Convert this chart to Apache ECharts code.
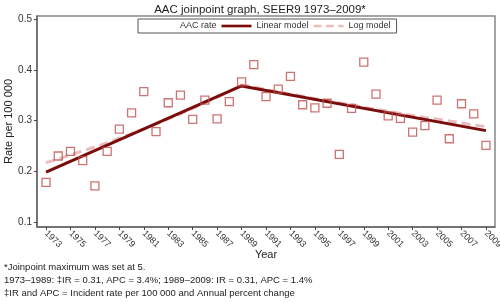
<!DOCTYPE html>
<html>
<head>
<meta charset="utf-8">
<script src="https://cdn.jsdelivr.net/npm/echarts@6/dist/echarts.min.js"></script>
<style>
  html, body { margin: 0; padding: 0; background: #fff; }
  #chart { width: 500px; height: 303px; }
</style>
</head>
<body>
<div id="chart"></div>
<script>
var dom = document.getElementById("chart");
var myChart = echarts.init(dom);

// observed AAC rate, one per year 1973..2009
var years = [1973, 1974, 1975, 1976, 1977, 1978, 1979, 1980, 1981, 1982, 1983, 1984, 1985,
    1986, 1987, 1988, 1989, 1990, 1991, 1992, 1993, 1994, 1995, 1996, 1997, 1998, 1999,
    2000, 2001, 2002, 2003, 2004, 2005, 2006, 2007, 2008, 2009];
var aacRate = [0.178, 0.230, 0.239, 0.221, 0.171, 0.239, 0.283, 0.315, 0.357, 0.278, 0.335,
    0.350, 0.302, 0.340, 0.303, 0.337, 0.376, 0.410, 0.347, 0.362, 0.387, 0.331, 0.325,
    0.334, 0.233, 0.324, 0.415, 0.352, 0.309, 0.304, 0.277, 0.290, 0.340, 0.264, 0.333,
    0.313, 0.251];

// linear joinpoint model (two segments)
var linearYears = [1973, 1989, 2009];
var linearModel = [0.198, 0.368, 0.280];

// log-linear model, per year
var logModel = [0.217, 0.224, 0.232, 0.240, 0.248, 0.256, 0.265, 0.274, 0.283, 0.293, 0.303,
    0.313, 0.324, 0.335, 0.346, 0.358, 0.370, 0.366, 0.361, 0.357, 0.352, 0.348, 0.343,
    0.339, 0.335, 0.331, 0.326, 0.322, 0.318, 0.314, 0.310, 0.306, 0.303, 0.299, 0.295,
    0.291, 0.288];

var xTicks = [1973, 1975, 1977, 1979, 1981, 1983, 1985, 1987, 1989, 1991, 1993, 1995, 1997,
    1999, 2001, 2003, 2005, 2007, 2009];
var yTicks = [0.1, 0.2, 0.3, 0.4, 0.5];

var footnotes = [
    '*Joinpoint maximum was set at 5.',
    '1973\u20131989: \u2021IR = 0.31, APC = 3.4%; 1989\u20132009: IR = 0.31, APC = 1.4%',
    '\u2021IR and APC = Incident rate per 100 000 and Annual percent change'
];

var font = 'Liberation Sans, Arial, sans-serif';

function pairs(xs, ys) {
    var out = [];
    for (var i = 0; i < xs.length; i++) out.push([xs[i], ys[i]]);
    return out;
}

var option = {
    animation: false,
    title: {
        text: 'AAC joinpoint graph, SEER9 1973\u20132009*',
        left: 255,
        textAlign: 'center',
        top: -1,
        textStyle: { fontFamily: font, fontSize: 11.5, fontWeight: 'normal', color: '#222' }
    },
    legend: {
        left: 138,
        top: 19,
        padding: [2, 6, 2, 6],
        itemGap: 5,
        itemWidth: 30,
        itemHeight: 8,
        borderColor: '#555',
        borderWidth: 1,
        textStyle: { fontFamily: font, fontSize: 9, color: '#333' },
        data: [
            { name: 'AAC rate', icon: 'emptyRect' },
            { name: 'Linear model', icon: 'path://M0,0h34v3h-34z' },
            { name: 'Log model', icon: 'path://M0,0h9v3h-9z M14,0h9v3h-9z M28,0h6v3h-6z' }
        ]
    },
    grid: {
        left: 37, right: 5, top: 16, bottom: 76,
        containLabel: false,
        outerBoundsMode: 'none',
        show: true,
        borderColor: '#888',
        borderWidth: 1.5
    },
    xAxis: {
        type: 'value',
        min: 1972.26,
        max: 2009.74,
        name: 'Year',
        nameLocation: 'middle',
        nameGap: 22,
        nameMoveOverlap: false,
        nameTextStyle: { fontFamily: font, fontSize: 11, color: '#222' },
        splitLine: { show: false },
        axisLine: { lineStyle: { color: '#666', width: 1.5 } },
        axisTick: { customValues: xTicks, length: 3, lineStyle: { color: '#444' } },
        axisLabel: {
            customValues: xTicks,
            rotate: -45,
            margin: 5,
            fontFamily: font, fontSize: 9, color: '#333',
            formatter: function (v) { return String(Math.round(v)); }
        }
    },
    yAxis: {
        type: 'value',
        min: 0.09,
        max: 0.506,
        name: 'Rate per 100 000',
        nameLocation: 'middle',
        nameGap: 23,
        nameMoveOverlap: false,
        nameTextStyle: { fontFamily: font, fontSize: 11, color: '#222' },
        splitLine: { show: false },
        axisLine: { show: true, lineStyle: { color: '#666', width: 1.5 } },
        axisTick: { customValues: yTicks, length: 3, lineStyle: { color: '#444' } },
        axisLabel: {
            customValues: yTicks,
            margin: 5,
            fontFamily: font, fontSize: 10, color: '#333',
            formatter: function (v) { return v.toFixed(1); }
        }
    },
    series: [
        {
            name: 'Log model',
            type: 'line',
            data: pairs(years, logModel),
            showSymbol: false,
            symbol: 'none',
            z: 2,
            lineStyle: { color: '#ebbcbc', width: 3, type: [9, 5] },
            itemStyle: { color: '#ebbcbc' }
        },
        {
            name: 'Linear model',
            type: 'line',
            data: pairs(linearYears, linearModel),
            showSymbol: false,
            symbol: 'none',
            z: 3,
            lineStyle: { color: '#7a0c0c', width: 3 },
            itemStyle: { color: '#7a0c0c' }
        },
        {
            name: 'AAC rate',
            type: 'scatter',
            data: pairs(years, aacRate),
            symbol: 'rect',
            symbolSize: 8,
            z: 4,
            itemStyle: { color: 'rgba(255,255,255,0)', borderColor: '#c0504d', borderWidth: 1.3 }
        }
    ],
    graphic: footnotes.map(function (t, i) {
        return {
            type: 'text',
            left: 4,
            top: 262 + i * 13,
            style: { text: t, fontFamily: font, fontSize: 9.5, fill: '#222' }
        };
    })
};
myChart.setOption(option);
</script>
</body>
</html>
